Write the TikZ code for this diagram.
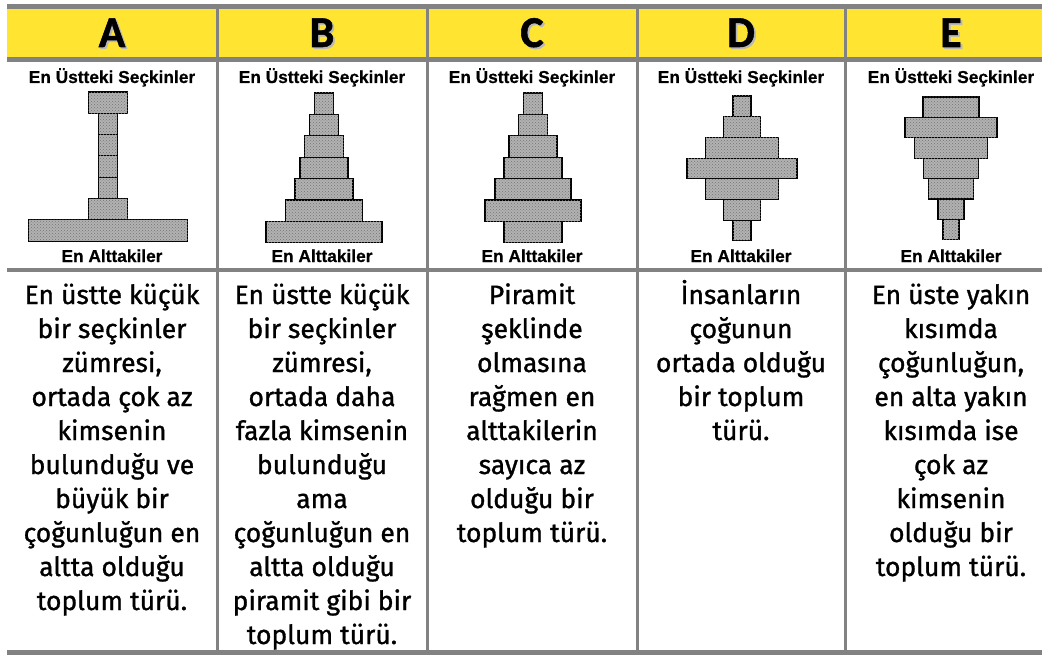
\documentclass[tikz,border=0pt]{standalone}
\usepackage{fontspec}
\setmainfont{Fira Sans}
\newfontfamily\govde[FakeBold=1.1]{Fira Sans}
\newfontfamily\harfyazi[FakeBold=1.2]{Carlito}
\newfontfamily\etiketyazi[FakeBold=0.6]{Liberation Sans}
\usepackage{tikz}
\usetikzlibrary{patterns,positioning}
\definecolor{sari}{RGB}{255,228,50}
\definecolor{cizgi}{RGB}{130,130,130}

\begin{document}
\begin{tikzpicture}[x=1pt,y=-1pt,
  harf/.style={font=\harfyazi\bfseries\fontsize{44}{44}\selectfont,inner sep=0pt},
  etiket/.style={font=\etiketyazi\bfseries\fontsize{17.3}{18}\selectfont,inner sep=0pt},
  metin/.style={font=\govde\fontsize{26.5}{34}\selectfont,align=center,inner sep=0pt,anchor=base},
  blok/.style={draw=black,line width=1.1pt,fill=black!30,postaction={pattern=crosshatch dots,pattern color=black!55}},
  yatay/.style={draw=cizgi,line width=4.5pt},
  dikey/.style={draw=cizgi,line width=3pt}]
\useasboundingbox (0,0) rectangle (1042,655);
% baslik bandi
\fill[sari] (7,9) rectangle (1042,57);
\draw[yatay] (7,6.5) -- (1042,6.5);
\draw[yatay] (7,59.5) -- (1042,59.5);
\draw[yatay] (7,270) -- (1042,270);
\draw[yatay] (7,652.5) -- (1042,652.5);
\foreach \dx in {217,427,637,845}
  \draw[dikey] (\dx,4) -- (\dx,655);
% harfler ve etiketler
\foreach \h/\cx in {A/112,B/322,C/532,D/741,E/951}{
  \node[harf,text=black!28,anchor=base] (golge-\h) at (\cx+1.8,48.8) {\h};
  \node[harf,anchor=base] (harf-\h) at (\cx,47) {\h};
  \node[etiket,anchor=base] (ust-\h) at (\cx,83) {En Üstteki Seçkinler};
  \node[etiket,anchor=base] (alt-\h) at (\cx,262) {En Alttakiler};
}
% piramitler
\foreach \cx/\ust/\yuk/\gen in {108/92/21.3/{39,19,19,19,19,39,159},
    324/93/21.4/{19,29,39,48,58,77,116},
    533/93/21.4/{19,29,48,58,76,96,58},
    742/96/20.7/{18,37,73,110,73,37,18},
    951/97/20.4/{56,92,73,55,45,26,16}}{
  \foreach \w [count=\i] in \gen
    \draw[blok] (\cx-\w/2,\ust+\i*\yuk-\yuk) rectangle (\cx+\w/2,\ust+\i*\yuk);
}
% aciklamalar (base = son satir)
\node[metin] (acik-A) at (112,610) {En üstte küçük\\bir seçkinler\\zümresi,\\ortada çok az\\kimsenin\\bulunduğu ve\\büyük bir\\çoğunluğun en\\altta olduğu\\toplum türü.};
\node[metin] (acik-B) at (322,644) {En üstte küçük\\bir seçkinler\\zümresi,\\ortada daha\\fazla kimsenin\\bulunduğu\\ama\\çoğunluğun en\\altta olduğu\\piramit gibi bir\\toplum türü.};
\node[metin] (acik-C) at (532,542) {Piramit\\şeklinde\\olmasına\\rağmen en\\alttakilerin\\sayıca az\\olduğu bir\\toplum türü.};
\node[metin] (acik-D) at (741,440) {İnsanların\\çoğunun\\ortada olduğu\\bir toplum\\türü.};
\node[metin] (acik-E) at (951,576) {En üste yakın\\kısımda\\çoğunluğun,\\en alta yakın\\kısımda ise\\çok az\\kimsenin\\olduğu bir\\toplum türü.};
\end{tikzpicture}
\end{document}
